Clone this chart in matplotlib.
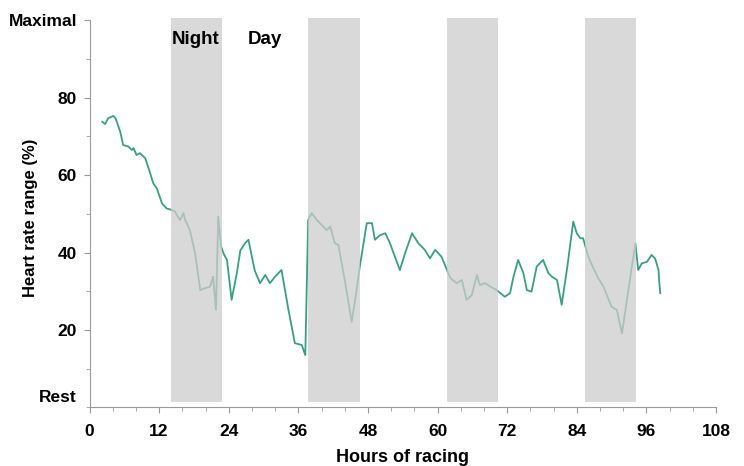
import matplotlib
matplotlib.use("Agg")
import matplotlib.pyplot as plt
from matplotlib.ticker import MultipleLocator
import numpy as np

plt.rcParams["font.family"] = ["Liberation Sans", "DejaVu Sans"]
plt.rcParams["font.weight"] = "bold"
plt.rcParams["font.size"] = 12

# heart rate range (% of rest..maximal) over hours of racing
hours = [2.2, 2.7, 3.2, 4.1, 4.5, 5.3, 5.8, 6.7, 7.3, 7.6, 8.1, 8.7, 9.6, 10.1, 11.0, 11.6,
         12.5, 13.3, 14.2, 14.7, 15.6, 16.2, 16.5, 17.3, 18.2, 19.1, 19.9, 20.8, 21.3, 21.8,
         22.2, 22.7, 23.1, 23.7, 24.5, 25.4, 26.0, 26.8, 27.4, 28.0, 28.5, 29.4, 30.3, 31.1,
         32.0, 33.1, 34.3, 35.4, 36.6, 37.2, 37.7, 38.3, 39.2, 40.9, 41.5, 42.3, 42.9, 44.1,
         45.2, 45.8, 46.6, 47.8, 48.7, 49.2, 50.1, 51.0, 51.8, 53.5, 54.4, 55.6, 56.7, 57.8,
         58.7, 59.6, 60.7, 62.2, 63.3, 64.2, 65.0, 65.9, 66.8, 67.3, 68.2, 69.1, 70.2, 71.6,
         72.5, 73.1, 73.9, 74.8, 75.4, 76.2, 77.1, 78.2, 79.1, 79.7, 80.6, 81.4, 82.3, 83.4,
         84.0, 84.6, 85.1, 86.0, 86.9, 87.7, 88.6, 90.0, 90.9, 91.8, 92.9, 94.1, 94.6, 95.2,
         96.1, 96.9, 97.5, 98.1, 98.2, 98.4]
hr_range = [73.8, 73.2, 74.7, 75.3, 74.7, 71.2, 67.8, 67.4, 66.5, 67.0, 65.2, 65.7, 64.4, 62.2,
            57.9, 56.6, 52.7, 51.4, 51.0, 50.6, 48.4, 50.2, 48.4, 45.8, 39.8, 30.3, 30.8, 31.2,
            33.8, 25.2, 49.3, 41.5, 39.8, 38.1, 27.8, 34.7, 40.5, 42.4, 43.3, 38.9, 35.3, 32.1,
            34.2, 32.1, 33.8, 35.5, 25.2, 16.6, 16.1, 13.5, 48.4, 50.2, 48.4, 45.8, 46.7, 42.4,
            42.0, 32.1, 22.1, 27.8, 36.4, 47.6, 47.6, 43.3, 44.5, 45.0, 42.4, 35.5, 39.8, 45.0,
            42.4, 40.7, 38.5, 40.7, 38.9, 33.4, 32.1, 32.9, 27.8, 29.0, 34.2, 31.6, 32.1, 31.2,
            30.3, 28.6, 29.5, 33.8, 38.1, 34.7, 30.3, 29.9, 36.4, 38.1, 34.7, 33.8, 32.9, 26.5,
            35.5, 48.0, 45.0, 43.7, 43.7, 38.9, 35.9, 33.4, 31.2, 26.0, 25.2, 19.1, 30.3, 42.4,
            35.5, 37.2, 37.6, 39.4, 38.5, 35.5, 32.9, 29.5]

night_start = [14.1, 37.7, 61.6, 85.5]
night_end = [22.9, 46.6, 70.4, 94.3]

x_ticks = [0, 12, 24, 36, 48, 60, 72, 84, 96, 108]
y_ticks = [20, 40, 60, 80, 100]
y_tick_labels = ["20", "40", "60", "80", "Maximal"]

line_color = "#3a9e84"
axis_color = "#9a9a9a"

fig = plt.figure(figsize=(7.44, 4.66), dpi=100)
ax = fig.add_axes([0.1203, 0.1258, 0.842, 0.8305])

ax.plot(hours, hr_range, color=line_color, lw=1.3, zorder=2)
for x0, x1 in zip(night_start, night_end):
    ax.axvspan(x0, x1, ymin=0.014, ymax=1.006, facecolor="#cdcdcd", alpha=0.75,
               edgecolor="none", zorder=3, clip_on=False)

ax.text(night_start[0], 95, "Night", fontsize=13.5, fontweight="bold", va="center", ha="left", zorder=4)
ax.text(27.3, 95, "Day", fontsize=13.5, fontweight="bold", va="center", ha="left", zorder=4)

ax.set_xlim(0, 108)
ax.set_ylim(0, 100)
ax.set_xticks(x_ticks)
ax.set_yticks(y_ticks, y_tick_labels)
ax.xaxis.set_minor_locator(MultipleLocator(4))
ax.yaxis.set_minor_locator(MultipleLocator(10))
ax.text(-2.3, 2.6, "Rest", fontsize=12.5, fontweight="bold", ha="right", va="center")

ax.spines[["right", "top"]].set_visible(False)
for side in ("left", "bottom"):
    ax.spines[side].set_color(axis_color)
    ax.spines[side].set_linewidth(0.8)
ax.tick_params(which="both", color=axis_color, direction="out")
ax.tick_params(which="major", length=4, labelsize=12.5, pad=5)
ax.tick_params(which="minor", length=3)
ax.tick_params(axis="x", pad=8)

ax.set_xlabel("Hours of racing", fontsize=13, fontweight="bold", labelpad=7)
ax.set_ylabel("Heart rate range (%)", fontsize=12, fontweight="bold")
ax.yaxis.set_label_coords(-0.083, 0.49)

fig.savefig("out.png", dpi=100)
